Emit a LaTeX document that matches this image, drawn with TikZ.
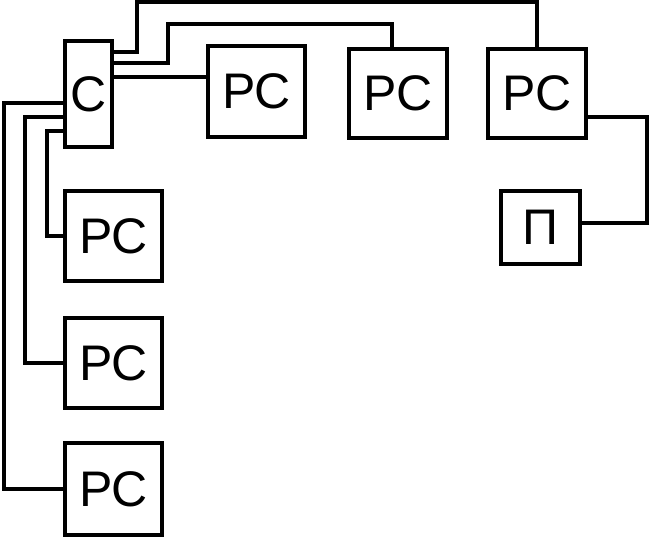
\documentclass[tikz,border=0pt]{standalone}
\usepackage{fontspec}
\setmainfont{Liberation Sans}
\usetikzlibrary{calc}
\tikzset{
  box/.style={draw, line width=4pt, inner sep=0pt, font=\fontsize{50}{60}\selectfont},
  wire/.style={line width=4pt}
}

\begin{document}
\begin{tikzpicture}[x=1pt, y=-1pt]
			%%%%% START %%%%%
			\useasboundingbox (0, 0) rectangle (649, 537);
			
			\node[box, minimum width=47pt, minimum height=106pt] (srv) at (88.5, 94) {С};
			
			\node[box, minimum width=97pt, minimum height=91pt] (ws1) at (256.5, 91.5) {РС};
			\node[box, minimum width=98pt, minimum height=89pt] (ws2) at (398, 93.5) {РС};
			\node[box, minimum width=98pt, minimum height=89pt] (ws3) at (537, 93.5) {РС};
			\node[box, minimum width=79pt, minimum height=73pt] (prn) at (540.5, 227.5) {П};
			
			\node[box, minimum width=97pt, minimum height=90pt] (ws4) at (113.5, 236) {РС};
			\node[box, minimum width=97pt, minimum height=90pt] (ws5) at (113.5, 363) {РС};
			\node[box, minimum width=97pt, minimum height=92pt] (ws6) at (113.5, 489) {РС};
			
			\draw[wire] ([yshift=42pt]srv.east) -| (137, 2) -| (ws3.north);
			\draw[wire] ([yshift=31pt]srv.east) -| (168, 24) -| ([xshift=-6pt]ws2.north);
			\coordinate (srvout) at ([yshift=17pt]srv.east);
			\draw[wire] (srvout) -- (srvout -| ws1.west);
			
			\draw[wire] (ws6.west) -| (4, 103) -- ([yshift=-9pt]srv.west);
			\draw[wire] (ws5.west) -| (25, 117) -- ([yshift=-23pt]srv.west);
			\draw[wire] (ws4.west) -| (47, 131) -- ([yshift=-37pt]srv.west);
			
			\draw[wire] ([yshift=-23.5pt]ws3.east) -| (647, 223) -- ([yshift=4.5pt]prn.east);
			%%%%% END %%%%%
\end{tikzpicture}
\end{document}
